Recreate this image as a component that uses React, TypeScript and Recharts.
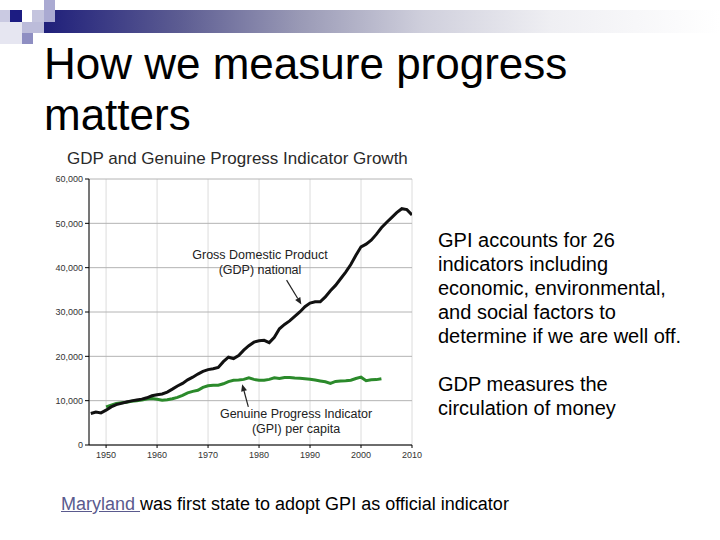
import {
  LineChart,
  Line,
  XAxis,
  YAxis,
  CartesianGrid,
  ReferenceLine,
} from "recharts"

const FONT = '"Liberation Sans", Arial, sans-serif'

// GDP national, 1947-2010
const gdpYears = [
  1947, 1948, 1949, 1950, 1951, 1952, 1953, 1954, 1955, 1956, 1957, 1958, 1959,
  1960, 1961, 1962, 1963, 1964, 1965, 1966, 1967, 1968, 1969, 1970, 1971, 1972,
  1973, 1974, 1975, 1976, 1977, 1978, 1979, 1980, 1981, 1982, 1983, 1984, 1985,
  1986, 1987, 1988, 1989, 1990, 1991, 1992, 1993, 1994, 1995, 1996, 1997, 1998,
  1999, 2000, 2001, 2002, 2003, 2004, 2005, 2006, 2007, 2008, 2009, 2010,
]
const gdpValues = [
  7100, 7450, 7250, 7850, 8600, 9100, 9400, 9700, 9950, 10150, 10350, 10650, 11100,
  11350, 11500, 11950, 12600, 13300, 13900, 14700, 15300, 16000, 16600, 17000, 17200, 17500,
  18800, 19800, 19500, 20200, 21400, 22400, 23200, 23500, 23600, 23100, 24300, 26200, 27200,
  28000, 29000, 30000, 31200, 32000, 32300, 32300, 33400, 34800, 36000, 37500, 39000, 40700,
  42800, 44700, 45300, 46200, 47500, 49000, 50200, 51300, 52400, 53300, 53100, 51900,
]

// GPI per capita, 1950-2004
const gpiYears = [
  1950, 1951, 1952, 1953, 1954, 1955, 1956, 1957, 1958, 1959,
  1960, 1961, 1962, 1963, 1964, 1965, 1966, 1967, 1968, 1969,
  1970, 1971, 1972, 1973, 1974, 1975, 1976, 1977, 1978, 1979,
  1980, 1981, 1982, 1983, 1984, 1985, 1986, 1987, 1988, 1989,
  1990, 1991, 1992, 1993, 1994, 1995, 1996, 1997, 1998, 1999,
  2000, 2001, 2002, 2003, 2004,
]
const gpiValues = [
  8600, 9000, 9350, 9520, 9650, 9850, 9970, 10150, 10350, 10500,
  10300, 10120, 10200, 10450, 10750, 11200, 11750, 12100, 12350, 13000,
  13350, 13500, 13500, 13800, 14300, 14600, 14650, 14800, 15150, 14800,
  14600, 14600, 14800, 15150, 15000, 15200, 15200, 15100, 15050, 14950,
  14850, 14650, 14450, 14250, 13900, 14350, 14450, 14500, 14600, 15000,
  15300, 14500, 14700, 14750, 14950,
]

const xTicks = [1950, 1960, 1970, 1980, 1990, 2000, 2010]
const yTicks = [0, 10000, 20000, 30000, 40000, 50000, 60000]

const data = gdpYears.map((year, i) => {
  const j = gpiYears.indexOf(year)
  return { year, gdp: gdpValues[i], gpi: j >= 0 ? gpiValues[j] : undefined }
})

// annotation arrows, in data coordinates (tail -> head)
const gdpArrow = [{ x: 1985.4, y: 37200 }, { x: 1988.3, y: 31700 }]
const gpiArrow = [{ x: 1977.9, y: 8600 }, { x: 1976.7, y: 13700 }]

function Arrow(props: any) {
  const { x1, y1, x2, y2 } = props
  const a = Math.atan2(y2 - y1, x2 - x1)
  const len = 7
  const w = 3
  const bx = x2 - len * Math.cos(a)
  const by = y2 - len * Math.sin(a)
  const p1 = `${bx + w * Math.sin(a)},${by - w * Math.cos(a)}`
  const p2 = `${bx - w * Math.sin(a)},${by + w * Math.cos(a)}`
  return (
    <g>
      <line x1={x1} y1={y1} x2={bx} y2={by} stroke="#222" strokeWidth={1.2} />
      <polygon points={`${x2},${y2} ${p1} ${p2}`} fill="#222" />
    </g>
  )
}

const fmt = (v: number) => v.toLocaleString("en-US")

function Decoration() {
  const sq = (left: number, top: number, w: number, h: number, bg: string) => (
    <div style={{ position: "absolute", left, top, width: w, height: h, background: bg }} />
  )
  return (
    <>
      <div
        style={{
          position: "absolute",
          left: 44,
          top: 10,
          width: 676,
          height: 23,
          background:
            "linear-gradient(to right, #1f1f7a 0%, #5c5c92 20%, #9a9ab6 38%, #cfcfdc 56%, #efeff3 75%, #ffffff 100%)",
        }}
      />
      {sq(0, 22, 22, 22, "#e6e6f1")}
      {sq(0, 10, 10, 12, "#cacae2")}
      {sq(10, 10, 12, 12, "#1c1c82")}
      {sq(32, 10, 12, 12, "#c4c4de")}
      {sq(44, 0, 11, 22, "#aaaad2")}
      {sq(22, 22, 22, 11, "#bcbcda")}
      {sq(22, 33, 11, 11, "#8e8ec2")}
    </>
  )
}

export default function App() {
  return (
    <div
      style={{
        position: "absolute",
        left: 0,
        top: 0,
        width: 720,
        height: 540,
        background: "#fff",
        fontFamily: FONT,
        overflow: "hidden",
      }}
    >
      <Decoration />

      <div
        style={{
          position: "absolute",
          left: 44,
          top: 38,
          fontSize: 44,
          lineHeight: "51px",
          color: "#000",
        }}
      >
        How we measure progress
        <br />
        matters
      </div>

      <div
        style={{
          position: "absolute",
          left: 67,
          top: 149,
          fontSize: 17,
          lineHeight: "20px",
          color: "#2a2a2a",
          whiteSpace: "nowrap",
        }}
      >
        GDP and Genuine Progress Indicator Growth
      </div>

      <div style={{ position: "absolute", left: 40, top: 170 }}>
        <LineChart
          width={390}
          height={300}
          data={data}
          margin={{ top: 9, right: 18, bottom: 0, left: 0 }}
        >
          <CartesianGrid horizontal={false} stroke="#dcdcdc" />
          <CartesianGrid vertical={false} stroke="#b4b4b4" />
          <XAxis
            dataKey="year"
            type="number"
            domain={[1946.65, 2010]}
            ticks={xTicks}
            allowDataOverflow
            height={25}
            tickSize={3}
            tickMargin={4}
            stroke="#000"
            tick={{ fontSize: 9, fill: "#333", fontFamily: FONT }}
          />
          <YAxis
            type="number"
            domain={[0, 60000]}
            ticks={yTicks}
            width={49}
            tickSize={4}
            tickMargin={2}
            tickFormatter={fmt}
            stroke="#000"
            tick={{ fontSize: 9, fill: "#333", fontFamily: FONT }}
          />
          <Line
            dataKey="gpi"
            stroke="#2b8a2b"
            strokeWidth={3}
            dot={false}
            isAnimationActive={false}
          />
          <Line
            dataKey="gdp"
            stroke="#111"
            strokeWidth={3}
            dot={false}
            isAnimationActive={false}
          />
          <ReferenceLine segment={gdpArrow} shape={Arrow} />
          <ReferenceLine segment={gpiArrow} shape={Arrow} />
        </LineChart>
      </div>

      <div
        style={{
          position: "absolute",
          left: 160,
          top: 248,
          width: 200,
          textAlign: "center",
          fontSize: 12.5,
          lineHeight: "15px",
          color: "#222",
        }}
      >
        Gross Domestic Product
        <br />
        (GDP) national
      </div>
      <div
        style={{
          position: "absolute",
          left: 196,
          top: 407,
          width: 200,
          textAlign: "center",
          fontSize: 12.5,
          lineHeight: "15px",
          color: "#222",
        }}
      >
        Genuine Progress Indicator
        <br />
        (GPI) per capita
      </div>

      <div
        style={{
          position: "absolute",
          left: 438,
          top: 228,
          fontSize: 20,
          lineHeight: "24px",
          color: "#000",
          whiteSpace: "nowrap",
        }}
      >
        GPI accounts for 26
        <br />
        indicators including
        <br />
        economic, environmental,
        <br />
        and social factors to
        <br />
        determine if we are well off.
        <br />
        <br />
        GDP measures the
        <br />
        circulation of money
      </div>

      <div
        style={{
          position: "absolute",
          left: 61,
          top: 494,
          fontSize: 18,
          lineHeight: "20px",
          color: "#000",
          whiteSpace: "nowrap",
        }}
      >
        <span style={{ color: "#5a5a8e", textDecoration: "underline" }}>Maryland </span>
        was first state to adopt GPI as official indicator
      </div>
    </div>
  )
}
